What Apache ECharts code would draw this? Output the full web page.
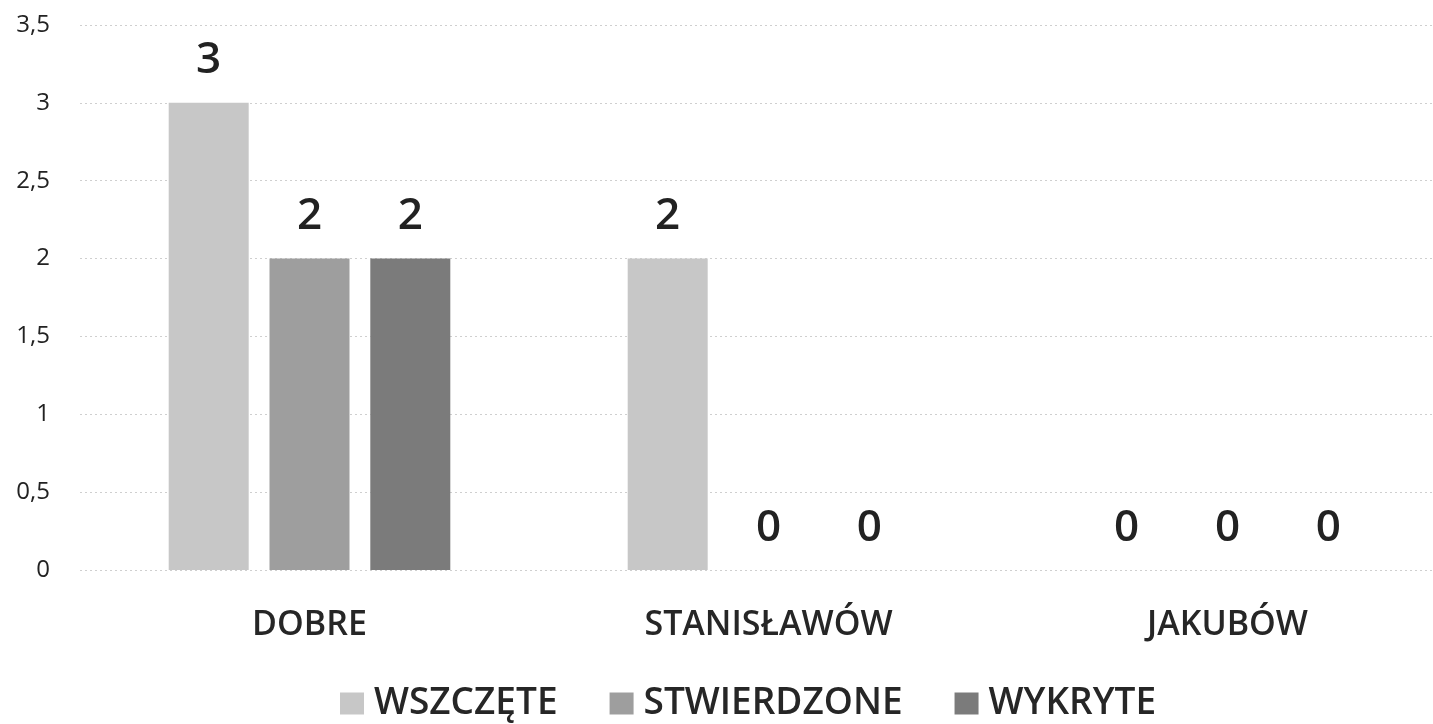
<!DOCTYPE html>
<html><head><meta charset="utf-8">
<script src="https://cdn.jsdelivr.net/npm/echarts@6/dist/echarts.min.js"></script>
<style>html,body{margin:0;padding:0;background:#fff}#c{width:1433px;height:724px}</style>
</head><body><div id="c"></div>
<script>
const categories = ['DOBRE', 'STANISŁAWÓW', 'JAKUBÓW'];
const seriesNames = ['WSZCZĘTE', 'STWIERDZONE', 'WYKRYTE'];
const wszczete = [3, 2, 0];
const stwierdzone = [2, 0, 0];
const wykryte = [2, 0, 0];
const yTicks = [0, 0.5, 1, 1.5, 2, 2.5, 3, 3.5];
const colors = ['#c7c7c7', '#9e9e9e', '#7b7b7b'];
const FONT = 'Open Sans';

const chart = echarts.init(document.getElementById('c'));
const values = [wszczete, stwierdzone, wykryte];
chart.setOption({
  animation: false,
  color: colors,
  textStyle: { fontFamily: FONT },
  grid: { left: 80, width: 1377, top: 25, bottom: 154, containLabel: false, outerBoundsMode: 'none' },
  legend: {
    top: 680, left: 335,
    itemWidth: 24, itemHeight: 22, itemGap: 52,
    icon: 'rect',
    textStyle: { fontSize: 37, fontWeight: 600, color: '#262626', fontFamily: FONT, padding: [0, 0, 0, 5] },
    data: seriesNames
  },
  xAxis: {
    type: 'category', data: categories,
    axisLine: { show: false }, axisTick: { show: false },
    axisLabel: { fontSize: 34, fontWeight: 600, color: '#262626', margin: 38, fontFamily: FONT }
  },
  yAxis: {
    type: 'value', min: yTicks[0], max: yTicks[yTicks.length - 1], interval: 0.5,
    axisLine: { show: false }, axisTick: { show: false },
    axisLabel: { fontSize: 24, color: '#222', margin: 30, fontFamily: FONT,
      formatter: v => String(v).replace('.', ',') },
    splitLine: { lineStyle: { color: '#cfcfcf', type: [2, 3], width: 1 } }
  },
  series: seriesNames.map((n, i) => ({
    name: n, type: 'bar', data: values[i],
    barWidth: 80, barGap: '26%',
    itemStyle: { color: colors[i] },
    label: { show: true, position: 'top', distance: 20, fontSize: 44, fontWeight: 600, color: '#222', fontFamily: FONT }
  }))
});
</script></body></html>
